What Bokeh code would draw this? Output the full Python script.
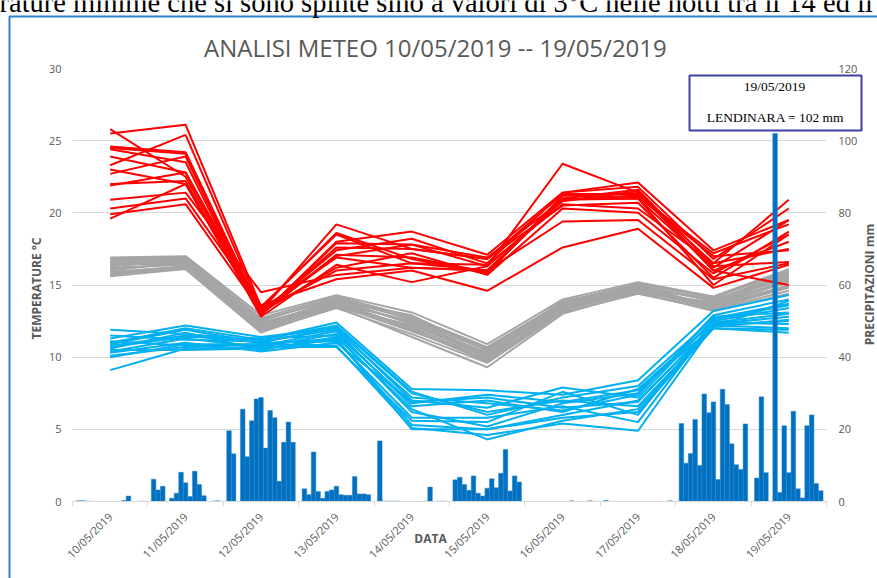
from math import pi
from bokeh.plotting import figure
from bokeh.models import Range1d, LinearAxis, FixedTicker, Label, BoxAnnotation, ColumnDataSource
from bokeh.embed import file_html
from bokeh.resources import INLINE

# ---------------- data ----------------
DAYS = ["10/05/2019", "11/05/2019", "12/05/2019", "13/05/2019", "14/05/2019",
        "15/05/2019", "16/05/2019", "17/05/2019", "18/05/2019", "19/05/2019"]

# maximum temperature per station (°C), one row per station, one value per day
TMAX = [
    [25.8, 22.5, 13.0, 17.0, 17.8, 16.3, 20.8, 21.5, 16.0, 15.0],
    [25.5, 26.1, 13.5, 18.5, 16.5, 16.0, 21.0, 21.0, 15.0, 18.5],
    [24.6, 24.2, 13.2, 19.2, 17.5, 16.8, 21.3, 21.3, 16.5, 20.9],
    [24.5, 24.1, 12.9, 18.0, 18.7, 17.1, 21.4, 22.1, 17.4, 19.5],
    [23.9, 22.8, 13.1, 17.4, 18.2, 16.5, 21.4, 21.8, 16.8, 20.3],
    [23.3, 25.4, 13.3, 16.9, 16.2, 16.0, 20.9, 21.0, 16.2, 19.5],
    [22.7, 23.9, 13.0, 17.6, 17.5, 16.8, 20.5, 20.7, 15.5, 18.7],
    [22.0, 22.2, 12.8, 16.4, 15.2, 16.3, 23.4, 21.4, 16.0, 18.0],
    [21.9, 22.8, 13.4, 18.6, 16.8, 15.8, 21.2, 21.1, 17.0, 17.4],
    [23.0, 22.0, 13.1, 16.2, 17.2, 15.7, 20.3, 20.0, 15.8, 18.5],
    [20.9, 21.4, 14.5, 15.7, 16.2, 16.0, 19.4, 19.5, 15.4, 16.5],
    [20.3, 21.0, 13.6, 15.4, 16.0, 14.6, 17.6, 18.9, 14.8, 16.4],
    [19.9, 20.6, 13.2, 16.0, 16.5, 16.4, 20.6, 20.3, 16.5, 17.5],
    [19.6, 22.0, 12.9, 17.9, 17.8, 16.9, 20.9, 21.2, 17.2, 19.2],
    [24.4, 23.5, 13.0, 17.1, 16.9, 15.9, 21.0, 21.6, 16.3, 16.6],
]

# mean temperature per station (°C)
TMEAN = [
    [16.9, 17.0, 12.9, 14.3, 13.1, 10.9, 14.0, 15.2, 14.2, 16.1],
    [16.7, 16.9, 12.5, 14.1, 12.6, 10.6, 13.8, 15.0, 13.9, 15.9],
    [16.6, 16.8, 12.3, 13.9, 12.9, 10.4, 13.9, 14.9, 14.0, 15.6],
    [16.4, 16.5, 12.2, 14.0, 12.3, 10.2, 13.5, 14.8, 13.6, 15.8],
    [16.3, 16.7, 12.0, 13.8, 12.0, 10.0, 13.6, 14.6, 13.7, 15.3],
    [16.2, 16.4, 12.4, 13.7, 12.5, 10.5, 13.7, 15.0, 13.5, 15.0],
    [16.0, 16.6, 11.9, 13.6, 11.8, 9.9, 13.3, 14.7, 13.4, 14.8],
    [15.9, 16.3, 12.1, 13.5, 12.2, 10.1, 13.4, 14.5, 13.8, 15.5],
    [15.8, 16.2, 11.8, 13.4, 11.6, 9.6, 13.1, 14.4, 13.3, 14.6],
    [15.6, 16.1, 11.7, 13.5, 11.4, 9.3, 13.0, 14.5, 13.2, 14.4],
    [16.8, 16.9, 12.7, 14.2, 12.8, 10.7, 13.8, 15.1, 14.1, 16.0],
    [16.5, 16.6, 12.1, 13.9, 12.4, 10.3, 13.6, 14.8, 13.6, 15.2],
    [16.1, 16.5, 11.9, 13.7, 12.1, 9.8, 13.4, 14.7, 13.5, 15.4],
    [15.7, 16.2, 12.0, 13.6, 11.9, 9.7, 13.2, 14.6, 13.4, 14.9],
    [16.4, 16.8, 12.6, 14.0, 12.7, 10.6, 13.7, 14.9, 13.9, 15.7],
]

# minimum temperature per station (°C)
TMIN = [
    [11.9, 11.6, 11.2, 12.4, 7.8, 7.7, 7.4, 8.4, 13.2, 14.3],
    [11.3, 12.2, 11.4, 12.0, 7.0, 6.5, 7.9, 7.2, 12.6, 13.6],
    [11.1, 10.8, 10.8, 11.8, 6.6, 7.0, 6.2, 7.8, 12.4, 12.3],
    [10.9, 11.9, 11.0, 12.1, 7.5, 6.2, 7.0, 6.6, 12.1, 13.9],
    [10.7, 11.4, 11.3, 11.5, 6.2, 5.2, 6.8, 7.5, 12.8, 13.1],
    [10.5, 10.5, 10.6, 11.2, 5.3, 5.0, 5.8, 6.2, 12.0, 11.9],
    [10.3, 11.0, 10.4, 11.0, 6.9, 7.2, 6.5, 6.9, 12.3, 12.8],
    [10.1, 10.7, 10.9, 10.8, 5.1, 4.6, 5.4, 4.9, 12.2, 12.5],
    [9.1, 10.6, 10.7, 10.7, 5.6, 5.5, 7.6, 6.0, 12.5, 13.4],
    [11.5, 11.2, 11.1, 11.9, 7.2, 6.8, 6.3, 7.4, 12.9, 14.0],
    [10.6, 11.7, 10.5, 11.4, 6.4, 4.3, 5.6, 6.4, 12.0, 11.7],
    [10.0, 10.9, 10.9, 11.3, 5.0, 5.0, 6.0, 7.0, 12.2, 12.0],
    [11.0, 12.0, 11.2, 12.2, 7.6, 6.0, 7.2, 8.0, 12.7, 13.7],
    [10.4, 11.3, 10.7, 11.6, 6.8, 7.4, 6.9, 7.7, 12.1, 12.6],
    [10.8, 11.5, 11.0, 11.1, 5.8, 5.8, 6.6, 5.5, 12.4, 13.0],
]

# daily precipitation per station (mm), one row per day, one value per station
PREC = [
    [0.2, 0.2, 0.1, 0, 0, 0, 0, 0, 0, 0, 0.3, 1.5, 0, 0, 0.1],
    [6.2, 3.2, 4.2, 0, 0.9, 2.3, 8.1, 5.2, 1.4, 8.4, 4.7, 1.6, 0, 0.1, 0.2],
    [19.6, 13.2, 0, 25.6, 12.4, 22.4, 28.4, 28.8, 14.8, 25.2, 23.2, 5.6, 16.4, 22.0, 16.4],
    [3.5, 1.9, 13.7, 2.8, 0.9, 2.8, 3.2, 4.2, 1.9, 1.7, 1.7, 6.9, 2.1, 2.1, 1.9],
    [16.8, 0.1, 0.1, 0.1, 0.1, 0, 0, 0, 0, 0, 0.1, 4.0, 0, 0.1, 0.1],
    [6.0, 6.7, 4.7, 3.1, 7.1, 2.3, 1.5, 3.7, 6.3, 3.8, 7.8, 14.4, 2.9, 7.1, 5.4],
    [0, 0, 0, 0, 0, 0, 0, 0, 0, 0.2, 0, 0, 0, 0.2, 0],
    [0.3, 0, 0, 0, 0, 0, 0, 0, 0, 0, 0, 0, 0, 0, 0.2],
    [21.6, 10.6, 13.3, 22.7, 10.0, 29.8, 24.6, 27.6, 6.1, 31.1, 26.9, 16.0, 10.2, 8.9, 21.5],
    [6.5, 29.0, 8.0, 0, 102.0, 2.5, 21.0, 8.0, 25.0, 3.5, 1.0, 21.0, 24.0, 5.0, 3.0],
]

TEMP_TICKS = [0, 5, 10, 15, 20, 25, 30]
PREC_TICKS = [0, 20, 40, 60, 80, 100, 120]

TITLE = "ANALISI METEO 10/05/2019  -- 19/05/2019"
DOC_TEXT = "rature minime che si sono spinte sino a valori di 3°C nelle notti tra il 14 ed il"
NOTE_DATE = "19/05/2019"
NOTE_TEXT = "LENDINARA = 102 mm"

# ---------------- layout (page pixels) ----------------
W, H = 877, 578
FL, FR, FT, FB = 72, 826, 68, 501   # plot area
ND = len(DAYS)
NS = len(PREC[0])
GAP = 1.5  # gap between day groups, in bar widths

GREY_TXT = "#595959"
GRID = "#D9D9D9"

p = figure(width=W, height=H, output_backend="svg", toolbar_location=None,
           x_range=Range1d(0, ND), y_range=Range1d(TEMP_TICKS[0], TEMP_TICKS[-1]),
           min_border_left=FL, min_border_right=W - FR,
           min_border_top=FT, min_border_bottom=H - FB)
p.extra_y_ranges = {"prec": Range1d(PREC_TICKS[0], PREC_TICKS[-1])}
p.outline_line_color = None
p.background_fill_color = "white"
p.border_fill_color = "white"

# x axis
centers = [i + 0.5 for i in range(ND)]
xa = p.xaxis[0]
xa.ticker = FixedTicker(ticks=centers, minor_ticks=list(range(ND + 1)))
xa.major_label_overrides = {c: d for c, d in zip(centers, DAYS)}
xa.major_label_orientation = pi / 4
xa.major_label_text_font = "Open Sans"
xa.major_label_text_font_size = "11px"
xa.major_label_text_color = GREY_TXT
xa.major_tick_line_color = None
xa.major_tick_out = 0
xa.major_tick_in = 0
xa.minor_tick_line_color = GRID
xa.minor_tick_out = 5
xa.minor_tick_in = 0
xa.axis_line_color = GRID
xa.major_label_standoff = 8

# left axis
ya = p.yaxis[0]
ya.ticker = FixedTicker(ticks=TEMP_TICKS)
ya.axis_line_color = None
ya.major_tick_line_color = None
ya.minor_tick_line_color = None
ya.major_tick_out = 0
ya.major_label_standoff = 11
ya.major_label_text_font = "Open Sans"
ya.major_label_text_font_size = "11px"
ya.major_label_text_color = GREY_TXT

# right axis
ra = LinearAxis(y_range_name="prec", ticker=FixedTicker(ticks=PREC_TICKS))
ra.axis_line_color = None
ra.major_tick_line_color = None
ra.minor_tick_line_color = None
ra.major_tick_out = 0
ra.major_label_standoff = 12
ra.major_label_text_font = "Open Sans"
ra.major_label_text_font_size = "11px"
ra.major_label_text_color = GREY_TXT
p.add_layout(ra, "right")

p.xgrid.grid_line_color = None
p.ygrid.grid_line_color = GRID
p.ygrid.grid_line_width = 1

# temperature lines
p.multi_line(xs=[centers] * len(TMEAN), ys=TMEAN, line_color="#A5A5A5", line_width=2)
p.multi_line(xs=[centers] * len(TMIN), ys=TMIN, line_color="#00B0F0", line_width=2)
p.multi_line(xs=[centers] * len(TMAX), ys=TMAX, line_color="#FF0000", line_width=2)

# precipitation bars
bw = 1.0 / (NS + GAP)
bx, btop = [], []
for i, day in enumerate(PREC):
    for j, v in enumerate(day):
        bx.append(i + (GAP / 2 + j + 0.5) * bw)
        btop.append(v)
src = ColumnDataSource(dict(x=bx, top=btop))
p.vbar(x="x", top="top", bottom=0, width=bw, source=src, y_range_name="prec",
       fill_color="#0070C0", line_color="#2F86CF", line_width=0.5)

# ---------------- overlay for the texts and boxes (page-pixel coordinates) ----------------
q = figure(width=W, height=H, output_backend="svg", toolbar_location=None,
           x_range=Range1d(0, W), y_range=Range1d(H, 0),
           x_axis_location=None, y_axis_location=None, min_border=0)
q.xgrid.visible = False
q.ygrid.visible = False
q.outline_line_color = None
q.background_fill_color = None
q.border_fill_color = None
q.styles = {"position": "absolute", "left": "0px", "top": "0px"}

# frame of the chart object
q.add_layout(BoxAnnotation(left=9, right=W + 20, top=16, bottom=H + 20,
                           fill_alpha=0, line_color="#2F7FD3", line_alpha=1, line_width=2))

# document text, cut at the top edge
q.add_layout(Label(x=-1, y=1.5, text=DOC_TEXT, text_font="Liberation Serif",
                   text_font_size="28.5px", text_color="black",
                   text_align="left", text_baseline="middle"))

# title
q.add_layout(Label(x=438, y=47, text=TITLE, text_font="Open Sans", text_font_size="24px",
                   text_color=GREY_TXT, text_align="center", text_baseline="middle"))

# axis titles
q.add_layout(Label(x=36, y=288, text="TEMPERATURE °C", angle=pi / 2,
                   text_font="Open Sans", text_font_style="bold", text_font_size="12px",
                   text_color=GREY_TXT, text_align="center", text_baseline="middle"))
q.add_layout(Label(x=869, y=284, text="PRECIPITAZIONI mm", angle=pi / 2,
                   text_font="Open Sans", text_font_style="bold", text_font_size="12px",
                   text_color=GREY_TXT, text_align="center", text_baseline="middle"))
q.add_layout(Label(x=430, y=538, text="DATA",
                   text_font="Open Sans", text_font_style="bold", text_font_size="12px",
                   text_color=GREY_TXT, text_align="center", text_baseline="middle"))

# note box
q.add_layout(BoxAnnotation(left=689, right=861, top=75, bottom=130,
                           fill_color="white", fill_alpha=1, line_color="#3F3FA5",
                           line_alpha=1, line_width=2))
q.add_layout(Label(x=774, y=86, text=NOTE_DATE, text_font="Liberation Serif",
                   text_font_size="13.5px", text_color="black",
                   text_align="center", text_baseline="middle"))
q.add_layout(Label(x=775, y=117, text=NOTE_TEXT, text_font="Liberation Serif",
                   text_font_size="13.5px", text_color="black",
                   text_align="center", text_baseline="middle"))

open("out.html", "w").write(file_html([p, q], INLINE))
